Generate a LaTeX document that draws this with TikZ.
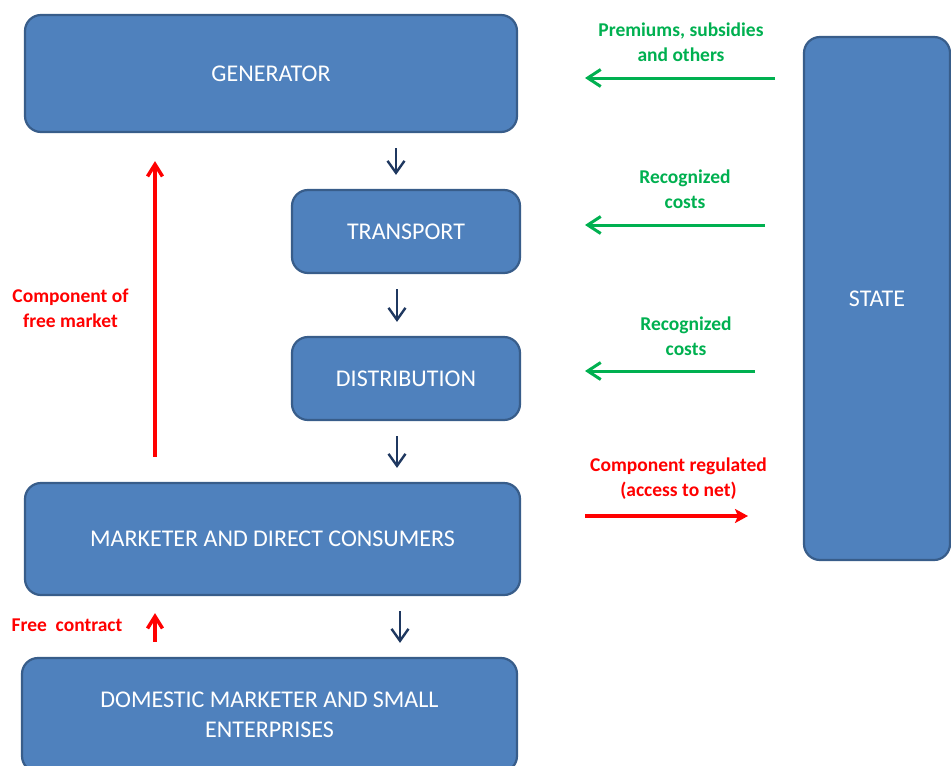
\documentclass[tikz,border=0pt]{standalone}
\usepackage{fontspec}
\setmainfont{Carlito}
\usetikzlibrary{arrows.meta,calc}
\definecolor{box_blue}{RGB}{79, 129, 189}
\definecolor{box_edge}{RGB}{56, 93, 138}
\definecolor{arr_navy}{RGB}{31, 56, 96}
\definecolor{cost_green}{RGB}{0, 176, 80}
\definecolor{reg_red}{RGB}{255, 0, 0}
\tikzstyle{block}=[rectangle,rounded corners=16pt,fill=box_blue,draw=box_edge,
  line width=2.2pt,text=white,align=center,
  font=\fontsize{24}{30}\selectfont]
\tikzstyle{glabel}=[text=cost_green,align=center,font=\fontsize{19.5}{25}\selectfont\bfseries]
\tikzstyle{rlabel}=[text=reg_red,align=center,font=\fontsize{19.5}{25}\selectfont\bfseries]
\tikzstyle{flow}=[draw=arr_navy,line width=2.4pt,-{Straight Barb[length=12pt,width=17pt,line width=2.4pt]},
  shorten <=15pt,shorten >=14pt]
\tikzstyle{money}=[draw=cost_green,line width=3pt,-{Straight Barb[length=13pt,width=17pt,line width=3pt]}]
\tikzstyle{market}=[draw=reg_red,line width=3.5pt,-{Straight Barb[length=12pt,width=15pt,line width=3.5pt]}]
\tikzstyle{none}=[]

\begin{document}
\begin{tikzpicture}[x=1pt,y=-1pt]
        \useasboundingbox (0,0) rectangle (951,766);
        \clip (0,0) rectangle (951,766);
        % boxes
        \node [style=block,minimum width=492pt,minimum height=117pt] (gen) at (271,73.5) {GENERATOR};
        \node [style=block,minimum width=228pt,minimum height=83pt] (trans) at (406,231.5) {TRANSPORT};
        \node [style=block,minimum width=228pt,minimum height=83pt] (dist) at (406,378.5) {DISTRIBUTION};
        \node [style=block,minimum width=495pt,minimum height=112pt] (mark) at (272.5,539) {MARKETER AND DIRECT CONSUMERS};
        \node [style=block,minimum width=495pt,minimum height=114pt] (dom) at (269.5,715) {DOMESTIC MARKETER AND SMALL\\ENTERPRISES};
        \node [style=block,minimum width=146pt,minimum height=523pt] (state) at (877,298.5) {STATE};
        % labels
        \node [style=glabel] (prem) at (681,42.5) {Premiums, subsidies\\and others};
        \node [style=glabel] (rec1) at (685,189.5) {Recognized\\costs};
        \node [style=glabel] (rec2) at (686,336.5) {Recognized\\costs};
        \node [style=rlabel] (regl) at (678.5,478.5) {Component regulated\\(access to net)};
        \node [style=rlabel] (freem) at (70.5,308.5) {Component of\\free market};
        \node [style=rlabel] (freec) at (67,625) {Free\ \ contract};
        % free ends of the side arrows
        \coordinate (g1) at (775,78);
        \coordinate (h1) at (585,78);
        \coordinate (g2) at (765,225);
        \coordinate (h2) at (585,225);
        \coordinate (g3) at (755,371);
        \coordinate (h3) at (585,371);
        \coordinate (r1) at (585,516);
        \coordinate (s1) at (748,516);
        % chain
        \draw [style=flow] ([xshift=-10pt]gen.south -| trans.north) to ([xshift=-10pt]trans.north);
        \draw [style=flow] ([xshift=-9pt]trans.south) to ([xshift=-9pt]dist.north);
        \draw [style=flow] ([xshift=-9pt]dist.south) to ([xshift=-9pt]dist.south |- mark.north);
        \draw [style=flow] ([xshift=127.5pt]mark.south) to ([xshift=127.5pt]mark.south |- dom.north);
        % free market
        \draw [style=market,shorten <=25pt,shorten >=28pt] ([xshift=-117.5pt]mark.north) to ([xshift=-117.5pt]mark.north |- gen.south);
        \draw [style=market,shorten <=15pt,shorten >=17pt] ([xshift=-114.5pt]dom.north) to ([xshift=-114.5pt]dom.north |- mark.south);
        % state side
        \draw [style=money] (g1) to (h1);
        \draw [style=money] (g2) to (h2);
        \draw [style=money] (g3) to (h3);
        \draw [draw=reg_red,line width=3.5pt,-{Stealth[length=13pt,width=14pt,inset=3pt]}] (r1) to (s1);
    \end{tikzpicture}
\end{document}
